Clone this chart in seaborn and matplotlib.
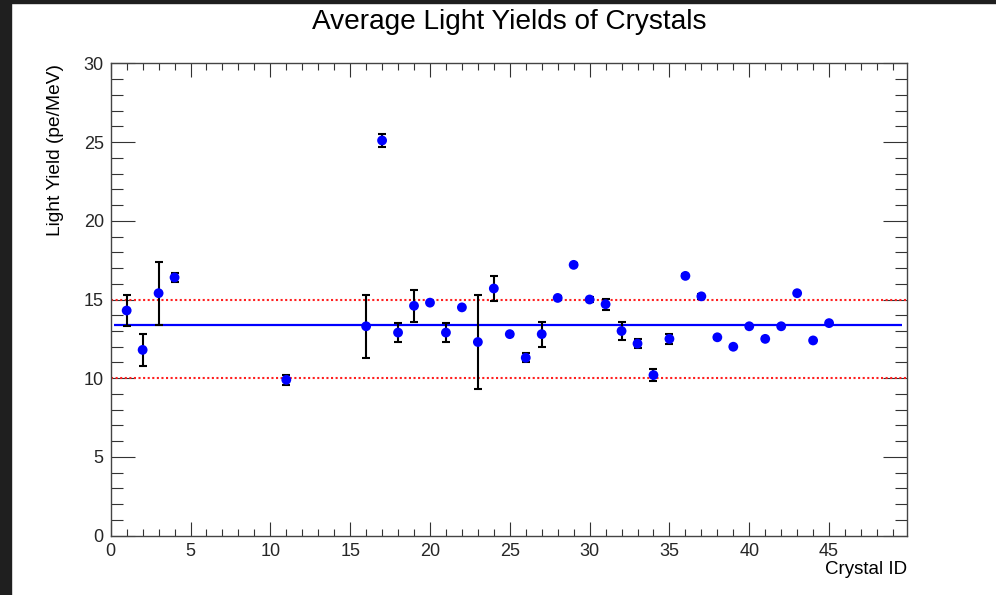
import numpy as np
import pandas as pd
import matplotlib
matplotlib.use("Agg")
import matplotlib.pyplot as plt
from matplotlib.ticker import MultipleLocator
import seaborn as sns

# ---- data ----
crystal_ids = [1, 2, 3, 4, 11, 16, 17, 18, 19, 20, 21, 22, 23, 24, 25, 26, 27, 28,
               29, 30, 31, 32, 33, 34, 35, 36, 37, 38, 39, 40, 41, 42, 43, 44, 45]
light_yield = [14.3, 11.8, 15.4, 16.4, 9.9, 13.3, 25.1, 12.9, 14.6, 14.8, 12.9, 14.5,
               12.3, 15.7, 12.8, 11.3, 12.8, 15.1, 17.2, 15.0, 14.7, 13.0, 12.2, 10.2,
               12.5, 16.5, 15.2, 12.6, 12.0, 13.3, 12.5, 13.3, 15.4, 12.4, 13.5]
yield_err = [1.0, 1.0, 2.0, 0.3, 0.3, 2.0, 0.4, 0.6, 1.0, 0.1, 0.6, 0.1,
             3.0, 0.8, 0.1, 0.3, 0.8, 0.15, 0.1, 0.15, 0.35, 0.6, 0.3, 0.4,
             0.3, 0.1, 0.15, 0.1, 0.1, 0.1, 0.1, 0.1, 0.1, 0.1, 0.1]
mean_yield = 13.35
mean_range = [0.2, 49.55]
limit_lines = [10, 15]
x_ticks = [0, 5, 10, 15, 20, 25, 30, 35, 40, 45]
y_ticks = [0, 5, 10, 15, 20, 25, 30]

df = pd.DataFrame({"id": crystal_ids, "ly": light_yield, "err": yield_err})

sns.set_style("white")
plt.rcParams["font.family"] = ["Liberation Sans", "DejaVu Sans"]

W, H = 996, 595
fig = plt.figure(figsize=(W / 100, H / 100), dpi=100)
fig.patch.set_facecolor("white")

# dark window strips of the screenshot
fig.add_artist(plt.Rectangle((0, 0), 11 / W, 1, transform=fig.transFigure,
                             color="#1f1f1f", zorder=0))
fig.add_artist(plt.Rectangle((0, 1 - 3.3 / H), 1, 3.3 / H, transform=fig.transFigure,
                             color="#1f1f1f", zorder=0))

x0, x1 = 110.7, 907.3
y0, y1 = 535.7, 63.3
ax = fig.add_axes([x0 / W, 1 - y0 / H, (x1 - x0) / W, (y0 - y1) / H])

ax.set_xlim(0, 49.9)
ax.set_ylim(0, 30)

for yl in limit_lines:
    ax.axhline(yl, color="#ff2020", lw=1.5, ls=(0, (1, 1.2)), zorder=1)
ax.hlines(mean_yield, mean_range[0], mean_range[1], color="#0000ff", lw=1.6, zorder=2)

ax.errorbar(df["id"], df["ly"], yerr=df["err"], fmt="none", ecolor="black",
            elinewidth=1.5, capsize=3, capthick=1.5, zorder=3)
sns.scatterplot(data=df, x="id", y="ly", ax=ax, color="#0000ff", s=50,
                edgecolor="none", linewidth=0, zorder=4, legend=False)

ax.set_xlabel("")
ax.set_ylabel("")
ax.set_xticks(x_ticks)
ax.set_yticks(y_ticks)
ax.xaxis.set_minor_locator(MultipleLocator(1))
ax.yaxis.set_minor_locator(MultipleLocator(1))
ax.tick_params(axis="x", which="major", direction="in", length=10, width=0.8,
               color="#333333", top=True, bottom=True, labelsize=13, pad=5)
ax.tick_params(axis="x", which="minor", direction="in", length=5, width=0.8,
               color="#333333", top=True, bottom=True)
ax.tick_params(axis="y", which="major", direction="in", length=17, width=0.8,
               color="#333333", left=True, right=True, labelsize=13, pad=5)
ax.tick_params(axis="y", which="minor", direction="in", length=8.5, width=0.8,
               color="#333333", left=True, right=True)
for sp in ax.spines.values():
    sp.set_color("#444444")
    sp.set_linewidth(1.0)

fig.text(509 / W, 1 - 22 / H, "Average Light Yields of Crystals", ha="center",
         va="center", fontsize=20.2, color="black")
fig.text(56 / W, 1 - 64 / H, "Light Yield (pe/MeV)", rotation=90, ha="center",
         va="top", fontsize=13.8, color="black")
fig.text(907 / W, 1 - 569 / H, "Crystal ID", ha="right", va="center",
         fontsize=13.5, color="black")

fig.savefig("out.png", dpi=100)
